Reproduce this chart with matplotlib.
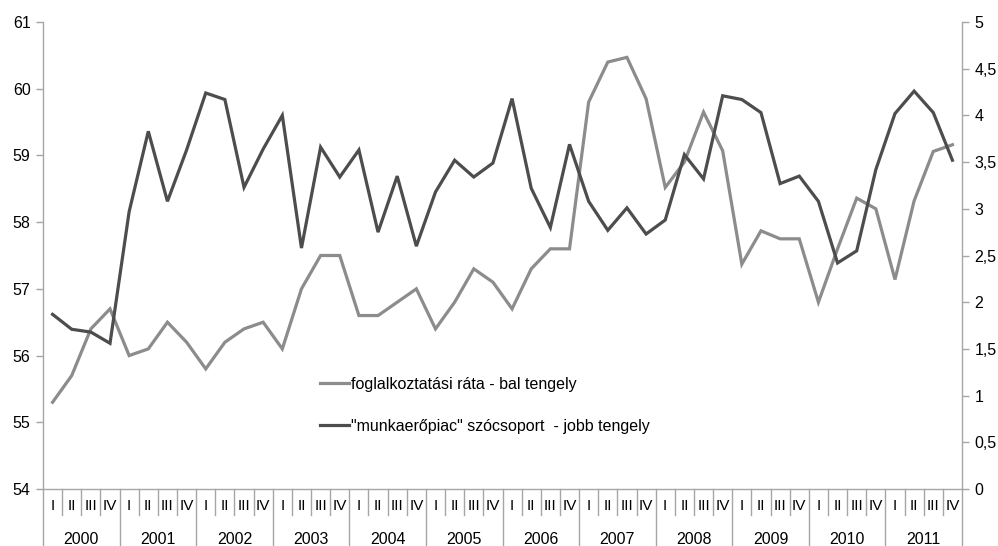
import matplotlib
matplotlib.use("Agg")
import matplotlib.pyplot as plt
import matplotlib.transforms as mtransforms
from matplotlib.ticker import FuncFormatter, MultipleLocator

plt.rcParams['font.family'] = ['Liberation Sans', 'DejaVu Sans']

years = ['2000', '2001', '2002', '2003', '2004', '2005', '2006', '2007', '2008', '2009', '2010', '2011']
quarters = ['I', 'II', 'III', 'IV']

employment = [
    55.3, 55.7, 56.4, 56.7,
    56.0, 56.1, 56.5, 56.2,
    55.8, 56.2, 56.4, 56.5,
    56.1, 57.0, 57.5, 57.5,
    56.6, 56.6, 56.8, 57.0,
    56.4, 56.8, 57.3, 57.1,
    56.7, 57.3, 57.6, 57.6,
    59.8, 60.4, 60.47, 59.85,
    58.52, 58.9, 59.65, 59.07,
    57.37, 57.87, 57.75, 57.75,
    56.8, 57.6, 58.36, 58.2,
    57.14, 58.32, 59.06, 59.16,
]
word_freq = [
    1.87, 1.71, 1.68, 1.56,
    2.97, 3.83, 3.08, 3.63,
    4.24, 4.17, 3.23, 3.64,
    4.00, 2.58, 3.66, 3.34,
    3.63, 2.75, 3.35, 2.60,
    3.18, 3.52, 3.34, 3.49,
    4.18, 3.22, 2.80, 3.69,
    3.08, 2.77, 3.01, 2.73,
    2.88, 3.58, 3.32, 4.21,
    4.17, 4.03, 3.27, 3.35,
    3.08, 2.42, 2.55, 3.42,
    4.02, 4.26, 4.03, 3.52,
]
label_emp = 'foglalkoztatási ráta - bal tengely'
label_word = '"munkaerőpiac" szócsoport  - jobb tengely'

axis_col = '#a6a6a6'
gray_col = '#8c8c8c'
dark_col = '#4d4d4d'

fig = plt.figure(figsize=(9.98, 5.46), dpi=100)
ax = fig.add_axes([43/998, 1-489/546, (962-43)/998, (489-22)/546])
ax2 = ax.twinx()

n = len(employment)
xs = [i + 0.5 for i in range(n)]

l1, = ax.plot(xs, employment, color=gray_col, lw=2.3, solid_joinstyle='miter', label=label_emp)
l2, = ax2.plot(xs, word_freq, color=dark_col, lw=2.3, solid_joinstyle='miter', label=label_word)

ax.set_xlim(0, n)
ax.set_ylim(54, 61)
ax2.set_ylim(0, 5)
ax.yaxis.set_major_locator(MultipleLocator(1))
ax2.yaxis.set_major_locator(MultipleLocator(0.5))
ax2.yaxis.set_major_formatter(FuncFormatter(lambda v, p: ('%g' % v).replace('.', ',')))

for a in (ax, ax2):
    a.spines['top'].set_visible(False)
    for s in ('left', 'right', 'bottom'):
        a.spines[s].set_color(axis_col)
        a.spines[s].set_linewidth(1.0)
    a.tick_params(axis='y', colors=axis_col, labelcolor='black', labelsize=11.5, length=5, width=1.0, pad=4)
    a.set_xticks([])
ax.spines['right'].set_visible(False)
ax2.spines['left'].set_visible(False)
ax2.spines['bottom'].set_visible(False)

# category axis: quarter labels and separators
trans = mtransforms.blended_transform_factory(ax.transData, ax.transAxes)
q_sep_bottom = -(515-489)/467
y_sep_bottom = -(546-489)/467
q_lab_y = -(506-489)/467
y_lab_y = -(539-489)/467
for i in range(n):
    ax.text(i + 0.5, q_lab_y, quarters[i % 4], transform=trans, ha='center', va='center', fontsize=11)
for i in range(n + 1):
    bottom = y_sep_bottom if i % 4 == 0 else q_sep_bottom
    ax.plot([i, i], [0, bottom], transform=trans, color=axis_col, lw=1.0, clip_on=False)
for k, yr in enumerate(years):
    ax.text(4 * k + 2, y_lab_y, yr, transform=trans, ha='center', va='center', fontsize=11.5)

fig.legend(handles=[l1, l2], loc='center left', bbox_to_anchor=(320/998, 1-405.5/546),
           frameon=False, fontsize=11.5, handlelength=1.8, handletextpad=0.15,
           labelspacing=1.7, borderpad=0, borderaxespad=0)

fig.savefig('out.png', dpi=100, facecolor='white')
